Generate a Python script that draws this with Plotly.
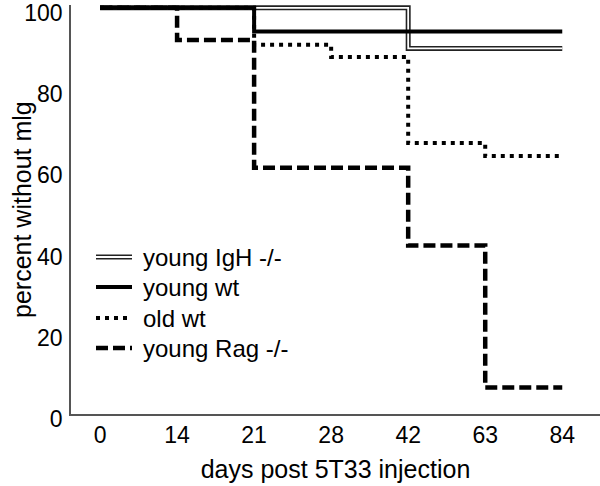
import plotly.graph_objects as go

# ---- data ----
day_labels = ["0", "14", "21", "28", "42", "63", "84"]

igh_days = ["0", "42", "84"]
igh_pct = [100, 90.0, 90.0]

wt_days = ["0", "21", "84"]
wt_pct = [100, 94.2, 94.2]

old_days = ["0", "21", "28", "42", "63", "84"]
old_pct = [100, 90.9, 87.9, 66.7, 63.5, 63.5]

rag_days = ["0", "14", "21", "42", "63", "84"]
rag_pct = [100, 92.1, 60.6, 41.5, 6.5, 6.5]

legend_names = ["young IgH -/-", "young wt", "old wt", "young Rag -/-"]


def pos(days):
    return [day_labels.index(d) for d in days]


FONT = "Liberation Sans, Arial, Helvetica, sans-serif"

fig = go.Figure()

# young IgH -/- : double line (black wide + white narrow)
fig.add_trace(go.Scatter(x=pos(igh_days), y=igh_pct, mode="lines", line_shape="hv",
                         line=dict(color="#222", width=5), showlegend=False, cliponaxis=False))
fig.add_trace(go.Scatter(x=pos(igh_days), y=igh_pct, mode="lines", line_shape="hv",
                         line=dict(color="white", width=1.8), showlegend=False, cliponaxis=False))
# young wt
fig.add_trace(go.Scatter(x=pos(wt_days), y=wt_pct, mode="lines", line_shape="hv",
                         line=dict(color="black", width=4), showlegend=False, cliponaxis=False))
# old wt
fig.add_trace(go.Scatter(x=pos(old_days), y=old_pct, mode="lines", line_shape="hv",
                         line=dict(color="black", width=4, dash="4px,5px"), showlegend=False, cliponaxis=False))
# young Rag -/-
fig.add_trace(go.Scatter(x=pos(rag_days), y=rag_pct, mode="lines", line_shape="hv",
                         line=dict(color="black", width=4.5, dash="12px,5px"), showlegend=False, cliponaxis=False))

# ---- manual legend (layout, in paper coordinates) ----
L, T, W, H = 71, 5, 529, 409


def px(xp):
    return (xp - L) / W


def py(yp):
    return (T + H - yp) / H


rows_y = [257, 287, 318, 348]
styles = [
    [dict(color="#222", width=5), dict(color="white", width=1.8)],
    [dict(color="black", width=4)],
    [dict(color="black", width=4, dash="4px,5px")],
    [dict(color="black", width=4.5, dash="12px,5px")],
]
shapes = []
annotations = []
for name, ry, sty in zip(legend_names, rows_y, styles):
    for s in sty:
        shapes.append(dict(type="line", xref="paper", yref="paper",
                           x0=px(96), x1=px(132), y0=py(ry), y1=py(ry), line=s))
    annotations.append(dict(text=name, xref="paper", yref="paper", x=px(141), y=py(ry),
                            xanchor="left", yanchor="middle", showarrow=False,
                            font=dict(family=FONT, size=24, color="black")))

# y-axis title as rotated annotation
annotations.append(dict(text="percent without mlg", xref="paper", yref="paper",
                        x=px(22), y=py(210), xanchor="center", yanchor="middle",
                        textangle=-90, showarrow=False,
                        font=dict(family=FONT, size=25, color="black")))

fig.update_layout(
    width=600, height=486,
    margin=dict(l=L, r=0, t=T, b=486 - T - H, autoexpand=False),
    paper_bgcolor="white", plot_bgcolor="white",
    font=dict(family=FONT, color="black"),
    shapes=shapes, annotations=annotations,
    xaxis=dict(range=[-0.377, 6.49], tickvals=list(range(len(day_labels))), ticktext=day_labels,
               showline=True, linecolor="#555", linewidth=1.5, showgrid=False, zeroline=False,
               ticks="", ticklabelstandoff=0, tickfont=dict(size=23), automargin=False,
               ticklabeloverflow="allow",
               title=dict(text="days post 5T33 injection", font=dict(size=25), standoff=13)),
    yaxis=dict(range=[0, 100.7], tickvals=[0, 20, 40, 60, 80, 100],
               showline=True, linecolor="#555", linewidth=1.5, showgrid=False, zeroline=False,
               ticks="", ticklabelstandoff=2, ticklabelshift=5, tickfont=dict(size=23),
               automargin=False, ticklabeloverflow="allow"),
)

fig.write_html("out.html", config={"displayModeBar": False},
               post_script="document.body.style.margin='0';document.body.style.padding='0';")
